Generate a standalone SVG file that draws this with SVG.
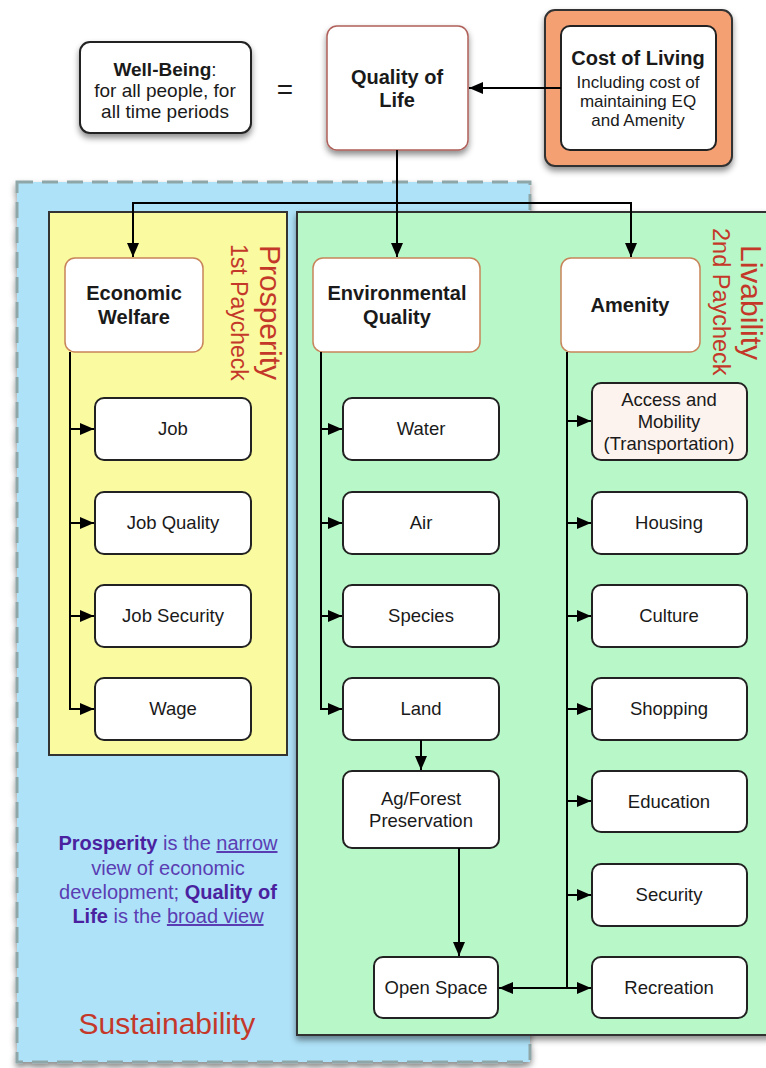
<svg xmlns="http://www.w3.org/2000/svg" width="766" height="1068" viewBox="0 0 766 1068">
<defs>
<filter id="sh" x="-10%" y="-10%" width="130%" height="130%">
<feDropShadow dx="0" dy="4" stdDeviation="3" flood-color="#000" flood-opacity="0.45"/>
</filter>
<marker id="ah" markerUnits="userSpaceOnUse" markerWidth="15" markerHeight="12" refX="14" refY="6" orient="auto">
<path d="M0,0 L14,6 L0,12 Z" fill="#000"/>
</marker>
<style>
text{font-family:"Liberation Sans",Arial,sans-serif;fill:#1a1a1a}
.n{font-size:18.5px;text-anchor:middle}
.b{font-size:20px;font-weight:bold;text-anchor:middle}
.box{fill:#fff;stroke:#222;stroke-width:2}
.hdr{fill:#fff;stroke:#c8845a;stroke-width:1.5}
.red{fill:#c4382a}
.pu{fill:#5a3db3;font-size:20px;text-anchor:middle}
.pb{font-weight:bold;fill:#4a22a0}
.c{fill:none;stroke:#000;stroke-width:2}
.wb{font-size:19px;text-anchor:middle}
.cl{font-size:17px;text-anchor:middle}
</style>
</defs>

<g id="sustainability">
<rect x="17" y="182" width="513" height="880" fill="#aee2f8" stroke="#8ea6a8" stroke-width="3" stroke-dasharray="16,9" filter="url(#sh)"/>
<text x="167" y="1034" font-size="30" text-anchor="middle" class="red">Sustainability</text>
<text class="pu" y="850"><tspan x="168"><tspan class="pb">Prosperity</tspan> is the <tspan text-decoration="underline">narrow</tspan></tspan></text>
<text class="pu" x="168" y="875">view of economic</text>
<text class="pu" y="899"><tspan x="168">development; <tspan class="pb">Quality of</tspan></tspan></text>
<text class="pu" y="923"><tspan x="168"><tspan class="pb">Life</tspan> is the <tspan text-decoration="underline">broad view</tspan></tspan></text>
</g>

<g id="prosperity">
<rect x="49" y="212" width="238" height="543" fill="#fafaa0" stroke="#333" stroke-width="2"/>
<text transform="translate(260,245) rotate(90)" font-size="30" class="red">Prosperity</text>
<text transform="translate(231,244) rotate(90)" font-size="23" class="red">1st Paycheck</text>
</g>

<g id="livability">
<rect x="297" y="212" width="475" height="823" fill="#b8f8c8" stroke="#333" stroke-width="2" filter="url(#sh)"/>
<text transform="translate(741,245) rotate(90)" font-size="30" class="red">Livability</text>
<text transform="translate(713,228) rotate(90)" font-size="23.5" class="red">2nd Paycheck</text>
</g>

<g id="well-being">
<rect x="80" y="42" width="171" height="91" rx="10" class="box" filter="url(#sh)"/>
<text x="165" y="76" class="wb"><tspan font-weight="bold">Well-Being</tspan>:</text>
<text x="165" y="97" class="wb">for all people, for</text>
<text x="165" y="118" class="wb">all time periods</text>
</g>

<g id="equals">
<text x="285" y="99" font-size="28" text-anchor="middle">=</text>
</g>

<g id="quality-of-life">
<rect x="327" y="26" width="141" height="124" rx="10" fill="#fff" stroke="#b0605a" stroke-width="1.5" filter="url(#sh)"/>
<text x="397" y="84" class="b" font-size="20.5">Quality of</text>
<text x="397" y="107" class="b" font-size="20.5">Life</text>
</g>

<g id="cost-of-living">
<rect x="545" y="10" width="187" height="156" rx="10" fill="#f5a073" stroke="#333" stroke-width="2" filter="url(#sh)"/>
<rect x="561" y="26" width="155" height="124" rx="9" class="box"/>
<text x="638" y="65" class="b">Cost of Living</text>
<text x="638" y="88" class="cl">Including cost of</text>
<text x="638" y="107" class="cl">maintaining EQ</text>
<text x="638" y="126" class="cl">and Amenity</text>
</g>

<g id="economic-welfare">
<rect x="65" y="258" width="138" height="94" rx="10" class="hdr"/>
<text x="134" y="300" class="b">Economic</text>
<text x="134" y="324" class="b">Welfare</text>
</g>
<g id="environmental-quality">
<rect x="313" y="258" width="167" height="94" rx="10" class="hdr"/>
<text x="397" y="300" class="b">Environmental</text>
<text x="397" y="324" class="b">Quality</text>
</g>
<g id="amenity">
<rect x="561" y="258" width="139" height="94" rx="10" class="hdr"/>
<text x="630" y="312" class="b">Amenity</text>
</g>

<g id="job"><rect x="95" y="398" width="156" height="62" rx="9" class="box"/><text x="173" y="435" class="n">Job</text></g>
<g id="job-quality"><rect x="95" y="492" width="156" height="62" rx="9" class="box"/><text x="173" y="529" class="n">Job Quality</text></g>
<g id="job-security"><rect x="95" y="585" width="156" height="62" rx="9" class="box"/><text x="173" y="622" class="n">Job Security</text></g>
<g id="wage"><rect x="95" y="678" width="156" height="62" rx="9" class="box"/><text x="173" y="715" class="n">Wage</text></g>

<g id="water"><rect x="343" y="398" width="156" height="62" rx="9" class="box"/><text x="421" y="435" class="n">Water</text></g>
<g id="air"><rect x="343" y="492" width="156" height="62" rx="9" class="box"/><text x="421" y="529" class="n">Air</text></g>
<g id="species"><rect x="343" y="585" width="156" height="62" rx="9" class="box"/><text x="421" y="622" class="n">Species</text></g>
<g id="land"><rect x="343" y="678" width="156" height="62" rx="9" class="box"/><text x="421" y="715" class="n">Land</text></g>
<g id="ag-forest"><rect x="343" y="771" width="156" height="77" rx="9" class="box"/><text x="421" y="805" class="n">Ag/Forest</text><text x="421" y="827" class="n">Preservation</text></g>
<g id="open-space"><rect x="374" y="957" width="124" height="61" rx="9" class="box"/><text x="436" y="994" class="n">Open Space</text></g>

<g id="access-mobility"><rect x="592" y="383" width="155" height="77" rx="9" fill="#fdf3ee" stroke="#222" stroke-width="2"/><text x="669" y="406" class="n">Access and</text><text x="669" y="428" class="n">Mobility</text><text x="669" y="450" class="n">(Transportation)</text></g>
<g id="housing"><rect x="592" y="492" width="155" height="62" rx="9" class="box"/><text x="669" y="529" class="n">Housing</text></g>
<g id="culture"><rect x="592" y="585" width="155" height="62" rx="9" class="box"/><text x="669" y="622" class="n">Culture</text></g>
<g id="shopping"><rect x="592" y="678" width="155" height="62" rx="9" class="box"/><text x="669" y="715" class="n">Shopping</text></g>
<g id="education"><rect x="592" y="771" width="155" height="61" rx="9" class="box"/><text x="669" y="808" class="n">Education</text></g>
<g id="security"><rect x="592" y="864" width="155" height="62" rx="9" class="box"/><text x="669" y="901" class="n">Security</text></g>
<g id="recreation"><rect x="592" y="957" width="155" height="61" rx="9" class="box"/><text x="669" y="994" class="n">Recreation</text></g>

<g id="connectors">
<path class="c" d="M561,88 H469" marker-end="url(#ah)"/>
<path class="c" d="M397,150 V257" marker-end="url(#ah)"/>
<path class="c" d="M133,257 V203 H631 V257"/>
<path class="c" d="M133,203 V257" marker-end="url(#ah)"/>
<path class="c" d="M631,203 V257" marker-end="url(#ah)"/>
<path class="c" d="M70,352 V709 H94" marker-end="url(#ah)"/>
<path class="c" d="M70,429 H94" marker-end="url(#ah)"/>
<path class="c" d="M70,523 H94" marker-end="url(#ah)"/>
<path class="c" d="M70,616 H94" marker-end="url(#ah)"/>
<path class="c" d="M321,352 V709 H342" marker-end="url(#ah)"/>
<path class="c" d="M321,429 H342" marker-end="url(#ah)"/>
<path class="c" d="M321,523 H342" marker-end="url(#ah)"/>
<path class="c" d="M321,616 H342" marker-end="url(#ah)"/>
<path class="c" d="M421,740 V770" marker-end="url(#ah)"/>
<path class="c" d="M459,848 V956" marker-end="url(#ah)"/>
<path class="c" d="M567,352 V988 H591" marker-end="url(#ah)"/>
<path class="c" d="M567,421 H591" marker-end="url(#ah)"/>
<path class="c" d="M567,523 H591" marker-end="url(#ah)"/>
<path class="c" d="M567,616 H591" marker-end="url(#ah)"/>
<path class="c" d="M567,709 H591" marker-end="url(#ah)"/>
<path class="c" d="M567,801 H591" marker-end="url(#ah)"/>
<path class="c" d="M567,895 H591" marker-end="url(#ah)"/>
<path class="c" d="M567,988 H499" marker-end="url(#ah)"/>
</g>
</svg>
